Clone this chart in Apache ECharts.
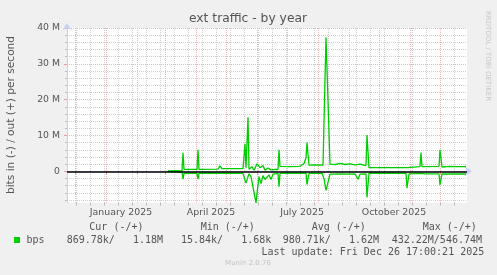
<!DOCTYPE html>
<html><head><meta charset="utf-8">
<script src="https://cdn.jsdelivr.net/npm/echarts@6/dist/echarts.min.js"></script>
<style>html,body{margin:0;padding:0;background:#f0f0f0}#c{width:497px;height:275px}</style>
</head><body><div id="c"></div>
<script>
// ---- data (Mbit/s) ----
const outDates = ['2025-03-04','2025-03-12','2025-03-18','2025-03-19','2025-03-20','2025-04-02','2025-04-03','2025-04-04','2025-04-23','2025-04-25','2025-04-27','2025-05-18','2025-05-20','2025-05-21','2025-05-23','2025-05-24','2025-05-27','2025-05-29','2025-06-01','2025-06-04','2025-06-07','2025-06-09','2025-06-12','2025-06-15','2025-06-19','2025-06-22','2025-06-23','2025-06-24','2025-07-04','2025-07-14','2025-07-18','2025-07-20','2025-07-21','2025-07-23','2025-07-29','2025-08-06','2025-08-09','2025-08-13','2025-08-18','2025-08-23','2025-08-28','2025-09-02','2025-09-07','2025-09-12','2025-09-18','2025-09-19','2025-09-21','2025-10-25','2025-10-27','2025-10-29','2025-11-11','2025-11-12','2025-11-13','2025-11-30','2025-12-01','2025-12-03','2025-12-11','2025-12-19','2025-12-27'];
const outMbps  = [0.1,0.15,0.1,5.2,0.55,0.55,6.0,0.55,0.6,1.5,0.75,0.75,7.7,1.0,15.1,0.6,1.3,0.3,2.1,1.0,1.6,0.3,0.9,0.4,0.5,0.5,6.0,1.4,1.3,1.4,2.2,3.8,8.0,1.7,1.8,1.7,37.4,2.0,1.9,2.2,1.9,2.1,1.8,2.0,1.6,10.1,1.0,1.0,1.4,1.0,1.3,5.2,1.3,1.4,6.0,1.2,1.4,1.3,1.3];
const inDates = ['2025-03-04','2025-03-11','2025-03-12','2025-03-13','2025-03-18','2025-03-19','2025-03-20','2025-04-02','2025-04-03','2025-04-04','2025-04-24','2025-04-25','2025-04-26','2025-05-18','2025-05-21','2025-05-23','2025-05-24','2025-05-26','2025-05-28','2025-05-31','2025-06-01','2025-06-03','2025-06-05','2025-06-07','2025-06-09','2025-06-11','2025-06-13','2025-06-15','2025-06-17','2025-06-19','2025-06-22','2025-06-23','2025-06-24','2025-07-20','2025-07-21','2025-07-23','2025-08-05','2025-08-07','2025-08-09','2025-08-11','2025-08-13','2025-08-23','2025-09-02','2025-09-07','2025-09-10','2025-09-12','2025-09-18','2025-09-19','2025-09-21','2025-10-28','2025-10-29','2025-10-31','2025-11-11','2025-11-13','2025-11-16','2025-11-30','2025-12-01','2025-12-03','2025-12-27'];
const inMbps  = [0.1,0.15,0.5,0.1,0.2,2.2,0.55,0.55,2.2,0.55,0.55,0.95,0.6,0.6,3.3,1.5,0.7,1.5,1.0,8.8,6.1,1.5,3.4,1.2,2.3,2.8,1.0,2.3,0.8,1.2,0.55,4.3,0.6,0.55,3.7,0.6,0.6,2.0,5.3,3.0,0.8,0.7,0.8,0.75,2.2,0.8,0.7,7.3,0.55,0.55,4.7,0.7,0.6,0.4,0.7,0.7,3.8,0.75,0.75];
const yTicks = [0,10,20,30,40];
const xLabelMonths = ['January 2025','April 2025','July 2025','October 2025'];
const legendHead = ['Cur (-/+)','Min (-/+)','Avg (-/+)','Max (-/+)'];
const legendVals = ['869.78k/   1.18M','15.84k/   1.68k','980.71k/   1.62M','432.22M/546.74M'];

// ---- categories: one per day ----
const DAY = 86400000;
const start = Date.UTC(2024,10,23);
const cats = [];
for (let i = 0; i <= 400; i++) {
  const d = new Date(start + i*DAY);
  cats.push(d.toISOString().slice(0,10));
}
const idx = s => Math.round((Date.parse(s+'T00:00:00Z') - start)/DAY);
const monthNames = ['January','February','March','April','May','June','July','August','September','October','November','December'];
const isMonthStart = (i) => cats[i].slice(8,10) === '01';
const biweekRef = idx('2024-12-16');
const isBiweek = (i) => ((i - biweekRef) % 14 + 14) % 14 === 0;
const isLabel = (i) => {
  const c = cats[i]; if (c.slice(8,10) !== '16') return false;
  const m = +c.slice(5,7);
  return xLabelMonths.indexOf(monthNames[m-1] + ' ' + c.slice(0,4)) >= 0;
};
const outData = outDates.map((d,k)=>[idx(d), outMbps[k]]);
const inData = inDates.map((d,k)=>[idx(d), -inMbps[k]]);

const PX = 143.3/40;
const TOP = 28, ZERO = 171.3;
const RED = '#efb4b4', GREY = '#cfcfcf', AX = '#c8d0f6';
const mono = 'DejaVu Sans Mono';

const chart = echarts.init(document.getElementById('c'), null, {renderer:'canvas'});
const graphics = [
  {type:'text', x:248, y:19, style:{text:'ext traffic - by year', font:'12.3px "DejaVu Sans"', fill:'#555', textAlign:'center', textVerticalAlign:'middle'}},
  {type:'text', x:11, y:115, rotation:Math.PI/2, style:{text:'bits in (-) / out (+) per second', font:'10.6px "DejaVu Sans"', fill:'#555', textAlign:'center', textVerticalAlign:'middle'}},
  {type:'text', x:488, y:56, rotation:-Math.PI/2, style:{text:'RRDTOOL / TOBI OETIKER', font:'7px "DejaVu Sans"', fill:'#c8c8c8', textAlign:'center', textVerticalAlign:'middle'}},
  {type:'rect', shape:{x:14,y:237,width:6,height:6}, style:{fill:'#00cc00'}},
  {type:'text', x:26.5, y:240, style:{text:'bps', font:'10px '+mono, fill:'#555', textVerticalAlign:'middle'}},
  {type:'text', x:261.5, y:252, style:{text:'Last update: Fri Dec 26 17:00:21 2025', font:'10px '+mono, fill:'#555', textVerticalAlign:'middle'}},
  {type:'text', x:248, y:263.5, style:{text:'Munin 2.0.76', font:'7px "DejaVu Sans"', fill:'#c4c4c4', textAlign:'center', textVerticalAlign:'middle'}}
];
const headX = [89.3, 200.7, 311.7, 422.7];
const valX = [66.7, 181, 282.7, 391.7];
legendHead.forEach((t,k)=>graphics.push({type:'text', x:headX[k], y:227.5, style:{text:t, font:'10px '+mono, fill:'#555', textVerticalAlign:'middle'}}));
legendVals.forEach((t,k)=>graphics.push({type:'text', x:valX[k], y:240, style:{text:t, font:'10px '+mono, fill:'#555', textVerticalAlign:'middle'}}));

chart.setOption({
  animation:false,
  backgroundColor:'#f0f0f0',
  grid:[
    {left:67, top:TOP, width:400, height:(ZERO-TOP)+8.75*PX, show:true, backgroundColor:'#ffffff', borderWidth:0},
    {left:67, top:TOP, width:400, height:(ZERO-TOP), show:false},
    {left:67, top:TOP, width:400, height:(ZERO-TOP)+8*PX, show:false}
  ],
  xAxis:[
    {type:'category', gridIndex:0, data:cats, boundaryGap:false, position:'bottom', z:3,
     axisLine:{show:true, lineStyle:{color:AX, width:1}, symbol:['none','arrow'], symbolSize:[7,7], symbolOffset:[0,5]},
     axisTick:{show:true, interval:(i)=>isMonthStart(i), length:3, lineStyle:{color:'#e89a9a'}},
     axisLabel:{show:true, interval:(i)=>isLabel(i), formatter:(v)=>monthNames[+v.slice(5,7)-1]+' '+v.slice(0,4), color:'#555', fontSize:9.4, fontFamily:'DejaVu Sans', margin:5, hideOverlap:false},
     splitLine:{show:true, interval:(i)=>isMonthStart(i), lineStyle:{color:RED, type:[1,1], width:1}}},
    {type:'category', gridIndex:0, data:cats, boundaryGap:false, position:'bottom', z:1,
     axisLine:{show:false}, axisLabel:{show:false},
     axisTick:{show:true, interval:(i)=>isBiweek(i), length:3, lineStyle:{color:'#bbb'}},
     splitLine:{show:true, interval:(i)=>isBiweek(i), lineStyle:{color:GREY, type:[1,1], width:1}}},
    {type:'value', gridIndex:1, show:false, min:0, max:1},
    {type:'value', gridIndex:2, show:false, min:0, max:1}
  ],
  yAxis:[
    {type:'value', gridIndex:0, min:-8.75, max:40, z:3,
     axisLine:{show:true, lineStyle:{color:AX, width:1}, symbol:['none','arrow'], symbolSize:[7,7], symbolOffset:[0,5]},
     axisTick:{show:false}, axisLabel:{show:false}, splitLine:{show:false}},
    {type:'value', gridIndex:1, min:yTicks[0], max:yTicks[yTicks.length-1], interval:10, z:2,
     axisLine:{show:false},
     axisTick:{show:true, length:3, lineStyle:{color:'#e89a9a'}},
     axisLabel:{show:true, color:'#555', fontSize:9.3, fontFamily:'DejaVu Sans', margin:7, formatter:(v)=> v===0 ? '0' : v+' M'},
     splitLine:{show:true, lineStyle:{color:RED, type:[1,1], width:1}}},
    {type:'value', gridIndex:2, min:-8, max:40, interval:2, z:1,
     axisLine:{show:false}, axisLabel:{show:false},
     axisTick:{show:true, length:2, lineStyle:{color:'#bbb'}},
     splitLine:{show:true, lineStyle:{color:GREY, type:[1,1], width:1}}}
  ],
  series:[
    {type:'line', name:'out', xAxisIndex:0, yAxisIndex:0, data:outData, showSymbol:false, symbol:'none', z:5,
     lineStyle:{color:'#00cc00', width:1.3},
     markLine:{silent:true, symbol:'none', label:{show:false}, lineStyle:{color:'#000', width:1.5, type:'solid'}, z:6, data:[{yAxis:0}]}},
    {type:'line', name:'in', xAxisIndex:0, yAxisIndex:0, data:inData, showSymbol:false, symbol:'none', z:5,
     lineStyle:{color:'#00cc00', width:1.3}}
  ],
  graphic:graphics
});
</script></body></html>
